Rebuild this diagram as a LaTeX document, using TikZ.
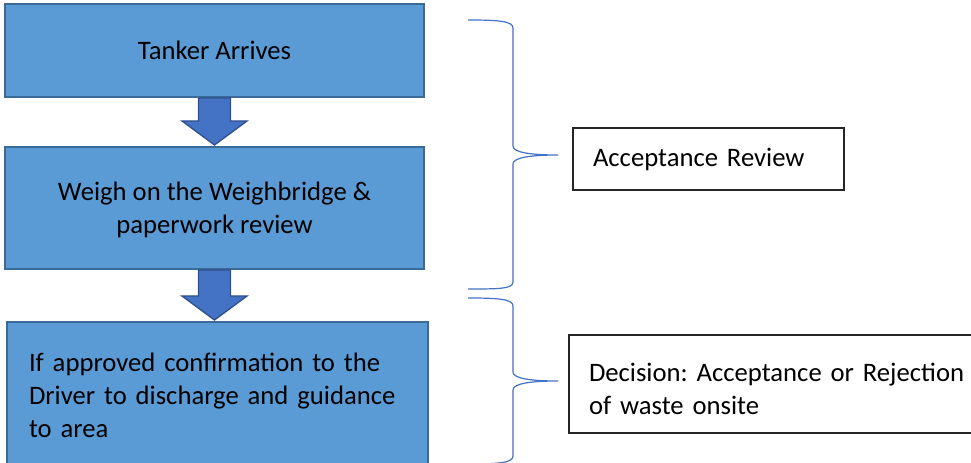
\documentclass[tikz,border=0pt]{standalone}
\usepackage{fontspec}
\setmainfont{Carlito}
\usetikzlibrary{calc}

\definecolor{stepfill}{HTML}{5B9BD5}
\definecolor{stepline}{HTML}{3A6A98}
\definecolor{arrowfill}{HTML}{4472C4}
\definecolor{arrowline}{HTML}{2F528F}

\begin{document}
\frenchspacing
\begin{tikzpicture}[x=0.75pt,y=-0.75pt,
    font=\fontsize{20}{24.75}\selectfont,
    stepbox/.style={draw=stepline,fill=stepfill,line width=1.5pt,
        minimum width=314.25pt,inner sep=0pt},
    notebox/.style={draw=black!85,line width=0.8pt,inner xsep=15pt,
        inner ysep=0pt,align=left},
    flowarrow/.style={fill=arrowfill,draw=arrowline,line width=1pt},
    bracepath/.style={draw=arrowfill,line width=0.9pt}]
    \clip (0,0) rectangle (971,463);

    % process steps
    \node[stepbox,minimum height=69.75pt] (arrive) at (214.5,50.5)
        {Tanker Arrives};
    \node[stepbox,minimum height=91.5pt] (weigh) at (214.5,208) {};
    \node[align=center,inner sep=0pt] (weightext) at ($(weigh.center)+(0,2)$)
        {Weigh on the Weighbridge \&\\ paperwork review};
    \node[stepbox,minimum width=315.75pt,minimum height=109.5pt,
        inner xsep=16.5pt,text width=282.75pt,align=left] (discharge)
        at (217.5,395)
        {If approved confirmation to the\\
         Driver to discharge and guidance\\
         to area};

    % block arrows between steps
    \foreach \a/\b in {arrive/weigh,weigh/discharge}
        \draw[flowarrow] ($(\a.south)+(-16,0)$) -- ($(\a.south)+(16,0)$)
            -- ($(\a.south |- \b.north)+(16,-25)$)
            -- ($(\a.south |- \b.north)+(32.5,-25)$)
            -- ($(\a.south |- \b.north)+(0,-1)$)
            -- ($(\a.south |- \b.north)+(-32.5,-25)$)
            -- ($(\a.south |- \b.north)+(-16,-25)$) -- cycle;

    % stage labels
    \node[notebox,minimum width=203.25pt,minimum height=46.5pt,
        text width=173.25pt] (review) at (708.5,159)
        {Acceptance Review};
    \node[notebox,minimum width=319.5pt,minimum height=73.5pt] (decision)
        at (782,384) {};
    \node[notebox,draw=none,text width=289.5pt] (decisiontext)
        at ($(decision.center)+(0,5)$)
        {Decision: Acceptance or Rejection\\ of waste onsite};

    % braces
    \coordinate (tipA) at (558,155);
    \coordinate (tipB) at (558,381);
    \draw[bracepath] (468,20) .. controls (498,20) and (513,21) .. (513,28)
        -- (513,146) .. controls (513,152) and (528,155) .. (tipA)
        .. controls (528,155) and (513,158) .. (513,164)
        -- (513,282) .. controls (513,289) and (498,289) .. (468,289);
    \draw[bracepath] (468,298) .. controls (498,298) and (513,299) .. (513,306)
        -- (513,372) .. controls (513,378) and (528,381) .. (tipB)
        .. controls (528,381) and (513,384) .. (513,390)
        -- (513,456) .. controls (513,463) and (498,464) .. (468,464);
\end{tikzpicture}
\end{document}
